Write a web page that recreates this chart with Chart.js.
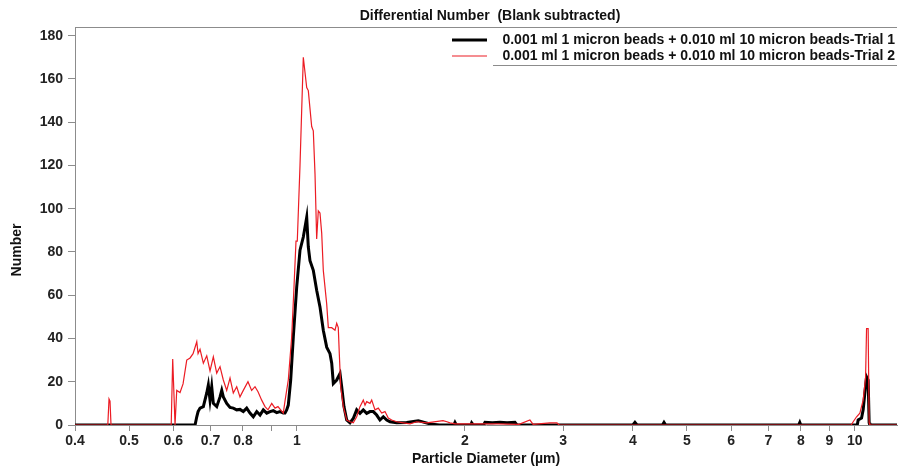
<!DOCTYPE html>
<html>
<head>
<meta charset="utf-8">
<script src="https://cdn.jsdelivr.net/npm/chart.js@4/dist/chart.umd.min.js"></script>
<style>
  html, body { margin: 0; padding: 0; background: #fff; }
  #wrap { width: 898px; height: 471px; }
</style>
</head>
<body>
<div id="wrap"><canvas id="psd-chart"></canvas></div>
<script>
// Chart text
const chartTitle = 'Differential Number  (Blank subtracted)';
const xTitle = 'Particle Diameter (\u00b5m)';
const yTitle = 'Number';

// Axis ticks
const xTicks = [0.4, 0.5, 0.6, 0.7, 0.8, 0.9, 1, 2, 3, 4, 5, 6, 7, 8, 9, 10];
const xTickLabels = ['0.4', '0.5', '0.6', '0.7', '0.8', '', '1', '2', '3', '4', '5', '6', '7', '8', '9', '10'];
const yTicks = [0, 20, 40, 60, 80, 100, 120, 140, 160, 180];

// Trial 1 (black)
const trial1Label = '0.001 ml 1 micron beads + 0.010 ml 10 micron beads-Trial 1';
const trial1Diam = [
  0.4, 0.6566, 0.6612, 0.6648, 0.6702, 0.6794, 0.689, 0.6935, 0.6984, 0.7033,
  0.708, 0.718, 0.7278, 0.733, 0.7378, 0.7482, 0.7585, 0.7688, 0.7797, 0.7903,
  0.8012, 0.8125, 0.8236, 0.8349, 0.8469, 0.8585, 0.8702, 0.8826, 0.8947, 0.9068,
  0.9196, 0.9322, 0.945, 0.9517, 0.9583, 0.9647, 0.9743, 0.9849, 0.9988, 1.0125,
  1.0264, 1.0409, 1.0478, 1.0551, 1.0696, 1.0846, 1.0995, 1.1147, 1.1304, 1.1459,
  1.1541, 1.1618, 1.1781, 1.1943, 1.2026, 1.214, 1.2277, 1.2445, 1.2615, 1.2794,
  1.2969, 1.3147, 1.3333, 1.3516, 1.3701, 1.3894, 1.4084, 1.428, 1.4482, 1.468,
  1.5091, 1.5726, 1.6499, 1.7316, 1.8, 1.91, 1.9194, 1.93, 2.05, 2.0565,
  2.07, 2.16, 2.1727, 2.24, 2.3106, 2.38, 2.4584, 2.48, 4.0, 4.0345,
  4.07, 4.52, 4.5487, 4.58, 7.93, 7.967, 8.0, 10.1, 10.137, 10.28,
  10.349, 10.421, 10.495, 10.564, 10.608, 10.639, 11.9
];
const trial1Count = [
  0, 0, 3.8, 6.2, 7.8, 8.5, 14.8, 18.5, 11.5, 17.7,
  10, 8.5, 13, 16, 13, 10, 8.1, 7.8, 7, 7.2,
  6.2, 7.8, 5.5, 3.8, 6.2, 4.6, 7, 5.5, 6.2, 6.6,
  5.7, 6.2, 5.5, 5.5, 7, 9.2, 20.8, 40.7, 63.8, 80.8,
  86.9, 96, 82.3, 76, 71.5, 62.3, 54.6, 43.8, 36, 33,
  28.6, 19.2, 20.8, 23.8, 17.7, 8.5, 2.3, 1, 3, 7,
  5.4, 7, 5.4, 6.2, 6.2, 4.6, 2.3, 3.8, 2.3, 1.5,
  1, 1.2, 2, 0.5, 0, 0, 1.2, 0, 0, 1,
  0, 0, 1.2, 1, 1.3, 1, 1.2, 0, 0, 1.2,
  0, 0, 1.2, 0, 0, 1.2, 0, 0, 2.3, 3.2,
  7, 14.8, 22.3, 20.8, 1, 0, 0
];

// Trial 2 (red)
const trial2Label = '0.001 ml 1 micron beads + 0.010 ml 10 micron beads-Trial 2';
const trial2Diam = [
  0.4, 0.458, 0.4603, 0.4622, 0.4641, 0.595, 0.5987, 0.6007, 0.6045, 0.6087,
  0.6171, 0.6248, 0.6344, 0.6432, 0.6512, 0.6612, 0.6648, 0.6702, 0.6794, 0.689,
  0.6984, 0.708, 0.718, 0.7278, 0.7378, 0.7482, 0.7585, 0.7688, 0.7797, 0.7903,
  0.8012, 0.8168, 0.8293, 0.8409, 0.8514, 0.8644, 0.8764, 0.8872, 0.901, 0.9133,
  0.9245, 0.945, 0.9517, 0.9647, 0.9783, 0.9877, 0.9959, 1.0012, 1.0125, 1.0264,
  1.0409, 1.0478, 1.0625, 1.0696, 1.0772, 1.0846, 1.0919, 1.0995, 1.1074, 1.1147,
  1.1304, 1.138, 1.1541, 1.1699, 1.1781, 1.1858, 1.1908, 1.1977, 1.2106, 1.219,
  1.2277, 1.2445, 1.2615, 1.2794, 1.2969, 1.3147, 1.3241, 1.3333, 1.3516, 1.3612,
  1.3798, 1.3987, 1.4185, 1.4379, 1.4576, 1.4782, 1.5091, 1.5507, 1.5942, 1.6389,
  1.7079, 1.8267, 1.8573, 1.88, 1.92, 2.0565, 2.3, 2.5, 2.6154, 2.65,
  2.8408, 2.9239, 2.95, 9.85, 9.931, 10.072, 10.209, 10.349, 10.452, 10.495,
  10.564, 10.608, 10.639, 11.9
];
const trial2Count = [
  0, 0, 12, 11, 0, 0, 30.5, 20, 0, 16,
  15, 19, 30, 31, 33, 38.5, 33, 35, 28.6, 32,
  25, 31.5, 24, 27, 20.8, 16, 21.7, 14.8, 17.7, 13,
  16, 20, 16, 17.7, 15.4, 11.5, 8.5, 7, 10, 7.8,
  8.5, 5.5, 11, 20.8, 40.7, 63.8, 85, 85, 120, 170,
  156, 154.6, 138, 136, 116, 86, 99, 98, 88.6, 71.5,
  56, 45, 45, 43.8, 47, 45, 33, 17.7, 8.5, 5.5,
  2.3, 1.5, 1, 3.8, 8.5, 11.5, 9.2, 10.8, 10, 11.5,
  7, 7.8, 5.5, 6.2, 3.2, 2.3, 1.5, 1, 0.5, 1.5,
  1, 2, 1.5, 1, 0.5, 0.5, 0.5, 0.3, 2.3, 0.3,
  1, 1, 0, 0, 1.5, 3.8, 5.5, 11.5, 22, 44.6,
  44.6, 1, 0, 0
];

const FONT = '"Liberation Sans", Arial, sans-serif';
const AXIS_GRAY = '#8c8c8c';

function toPoints(xs, ys) {
  return xs.map((x, i) => ({ x, y: ys[i] }));
}

// Title, legend, y title and top frame line
const chartDecor = {
  id: 'chartDecor',
  afterDraw(chart) {
    const { ctx, chartArea } = chart;
    ctx.save();

    ctx.strokeStyle = AXIS_GRAY;
    ctx.lineWidth = 1;
    ctx.beginPath();
    ctx.moveTo(chartArea.left, chartArea.top + 0.5);
    ctx.lineTo(chartArea.right, chartArea.top + 0.5);
    ctx.stroke();

    ctx.fillStyle = '#111';
    ctx.font = 'bold 14px ' + FONT;
    ctx.textAlign = 'center';
    ctx.textBaseline = 'middle';
    ctx.fillText(chartTitle, 490, 16);

    ctx.save();
    ctx.translate(17, 250);
    ctx.rotate(-Math.PI / 2);
    ctx.fillText(yTitle, 0, 0);
    ctx.restore();

    // legend in the top right corner
    ctx.textAlign = 'right';
    chart.data.datasets.forEach((ds, i) => {
      const y = 40 + i * 16;
      ctx.strokeStyle = ds.borderColor;
      ctx.lineWidth = ds.borderWidth;
      ctx.beginPath();
      ctx.moveTo(452, y);
      ctx.lineTo(487, y);
      ctx.stroke();
      ctx.fillStyle = '#111';
      ctx.fillText(ds.label, chartArea.right - 2, y);
    });
    ctx.strokeStyle = AXIS_GRAY;
    ctx.lineWidth = 1;
    ctx.beginPath();
    ctx.moveTo(493, 65.5);
    ctx.lineTo(chartArea.right, 65.5);
    ctx.stroke();

    ctx.restore();
  }
};

const ctx = document.getElementById('psd-chart').getContext('2d');
new Chart(ctx, {
  type: 'line',
  data: {
    datasets: [
      {
        label: trial1Label,
        data: toPoints(trial1Diam, trial1Count),
        borderColor: '#000000',
        borderWidth: 3,
        pointRadius: 0,
        tension: 0,
        order: 1
      },
      {
        label: trial2Label,
        data: toPoints(trial2Diam, trial2Count),
        borderColor: '#ec1c24',
        borderWidth: 1.2,
        pointRadius: 0,
        tension: 0,
        order: 0
      }
    ]
  },
  plugins: [chartDecor],
  options: {
    responsive: true,
    maintainAspectRatio: false,
    animation: false,
    layout: { padding: { top: 27, right: 1, left: 0, bottom: 0 } },
    plugins: {
      legend: { display: false },
      title: { display: false },
      tooltip: { enabled: false }
    },
    scales: {
      x: {
        type: 'logarithmic',
        min: 0.4,
        max: 11.9,
        afterBuildTicks: (scale) => { scale.ticks = xTicks.map(v => ({ value: v })); },
        afterFit: (scale) => { scale.height = 46; },
        ticks: {
          autoSkip: false,
          maxRotation: 0,
          padding: 2,
          color: '#222',
          font: { family: FONT, size: 14, weight: 'bold' },
          callback: (value, index) => xTickLabels[index]
        },
        grid: { drawOnChartArea: false, drawTicks: true, tickLength: 6, color: AXIS_GRAY },
        border: { display: true, color: AXIS_GRAY, width: 1 },
        title: {
          display: true,
          text: xTitle,
          color: '#111',
          font: { family: FONT, size: 14, weight: 'bold' },
          padding: { top: 0, bottom: 3 }
        }
      },
      y: {
        min: 0,
        max: 184,
        afterBuildTicks: (scale) => { scale.ticks = yTicks.map(v => ({ value: v })); },
        afterFit: (scale) => { scale.width = 75; },
        ticks: {
          padding: 5,
          color: '#222',
          font: { family: FONT, size: 14, weight: 'bold' }
        },
        grid: { drawOnChartArea: false, drawTicks: true, tickLength: 7, color: AXIS_GRAY },
        border: { display: true, color: AXIS_GRAY, width: 1 }
      }
    }
  }
});
</script>
</body>
</html>
